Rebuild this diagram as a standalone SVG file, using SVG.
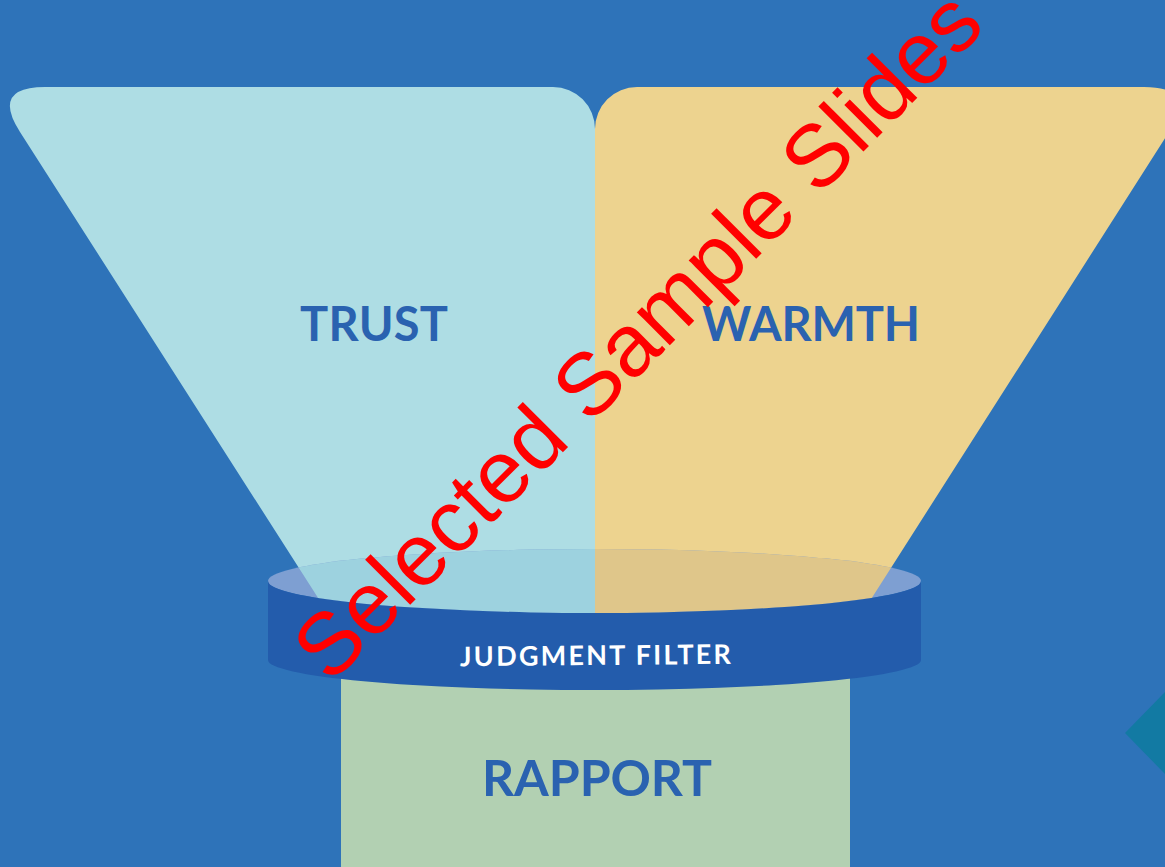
<svg xmlns="http://www.w3.org/2000/svg" width="1165" height="867" viewBox="0 0 1165 867">
  <style>
    .label { font-family: Lato, "Open Sans", "Liberation Sans", sans-serif; font-weight: bold; fill: #2A62B0; }
    .band-label { font-family: Lato, "Open Sans", "Liberation Sans", sans-serif; font-weight: bold; fill: #FFFFFF; }
    .mark { font-family: "Liberation Sans", Arial, sans-serif; fill: #FF0000; }
  </style>
  <defs>
    <path id="leftShape" d="M 45,87 L 553,87 A 42 42 0 0 1 595,129 L 595,640 L 345,640 L 20,132 Q -9,87 45,87 Z"/>
    <path id="rightShape" d="M 595,129 A 42 42 0 0 1 637,87 L 1144,87 Q 1198,87 1169,132 L 845,640 L 595,640 Z"/>
    <clipPath id="ellClip">
      <ellipse cx="594.5" cy="581" rx="326.5" ry="32"/>
    </clipPath>
  </defs>
  <rect x="0" y="0" width="1165" height="867" fill="#2E73B9"/>

  <g id="diamond">
    <polygon points="1125,733 1165,692 1205,733 1165,774" fill="#127AA3"/>
  </g>

  <g id="rapport">
    <rect x="341" y="650" width="509" height="217" fill="#B2D0B2"/>
    <text class="label" x="597" y="796" font-size="50" text-anchor="middle" textLength="230" lengthAdjust="spacing">RAPPORT</text>
  </g>

  <g id="trust">
    <use href="#leftShape" fill="#AEDDE4"/>
    <text class="label" x="374" y="341" font-size="47" text-anchor="middle" textLength="148" lengthAdjust="spacing">TRUST</text>
  </g>

  <g id="warmth">
    <use href="#rightShape" fill="#EDD38F"/>
    <text class="label" x="811" y="341" font-size="47" text-anchor="middle" textLength="218" lengthAdjust="spacing">WARMTH</text>
  </g>

  <g id="judgment-filter">
    <ellipse cx="594.5" cy="581" rx="326.5" ry="32" fill="#7E9FD2"/>
    <g clip-path="url(#ellClip)">
      <use href="#leftShape" fill="#9DD2DF"/>
      <use href="#rightShape" fill="#DFC68A"/>
    </g>
    <path d="M 268,581 A 326.5 32 0 0 0 921,581 L 921,660 A 326.5 30 0 0 1 268,660 Z" fill="#235CAC"/>
    <text class="band-label" x="595.5" y="665" font-size="27" text-anchor="middle" textLength="271" lengthAdjust="spacing" transform="rotate(-0.5 595.5 665)">JUDGMENT FILTER</text>
  </g>

  <g id="connectors"></g>

  <g id="watermark">
    <text class="mark" x="330" y="685" font-size="88" transform="rotate(-45 330 685)">Selected Sample Slides</text>
  </g>
</svg>
